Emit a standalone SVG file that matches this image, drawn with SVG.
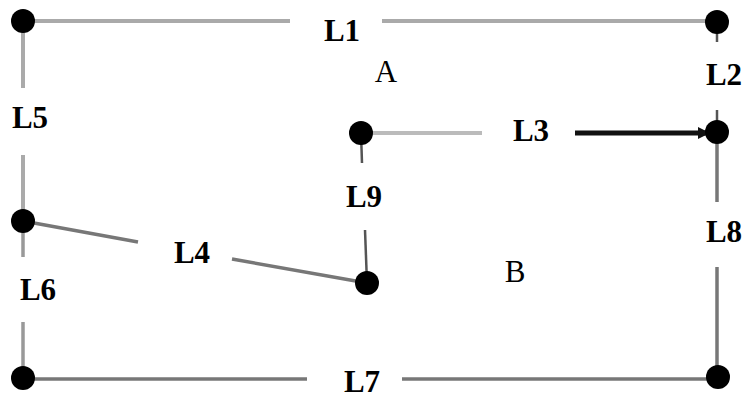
<svg xmlns="http://www.w3.org/2000/svg" width="747" height="405" viewBox="0 0 747 405">
<defs>
<style>
.n{fill:#000}
.lbl{font-family:"Liberation Serif","Times New Roman",serif;font-size:31px;font-weight:bold;fill:#000;text-anchor:middle}
.reg{font-family:"Liberation Serif","Times New Roman",serif;font-size:31px;fill:#000;text-anchor:middle}
.c{fill:none;stroke-linecap:butt}
.light{stroke:#aaa;stroke-width:4}
.mid{stroke:#777;stroke-width:3.5}
.dark{stroke:#555;stroke-width:2.5}
</style>
<marker id="arr" viewBox="0 0 10 10" refX="10" refY="5" markerWidth="3" markerHeight="2.4" orient="auto" markerUnits="strokeWidth">
<path d="M0,0 L10,5 L0,10 z" fill="#111"/>
</marker>
</defs>
<rect width="747" height="405" fill="#fff"/>
<g id="connectors">
<g id="L1"><line class="c light" x1="23" y1="21" x2="290" y2="21"/><line class="c light" x1="382" y1="21" x2="717" y2="21"/></g>
<g id="L2"><line class="c dark" x1="717" y1="22" x2="717" y2="42"/><line class="c dark" x1="717" y1="110" x2="717" y2="132"/></g>
<g id="L3"><line class="c" stroke="#bbb" stroke-width="4" x1="361" y1="133" x2="482" y2="133"/><line class="c" stroke="#111" stroke-width="5" x1="575" y1="133" x2="710" y2="133" marker-end="url(#arr)"/></g>
<g id="L4"><line class="c mid" x1="23" y1="221" x2="138" y2="242"/><line class="c mid" x1="232" y1="259" x2="367" y2="283"/></g>
<g id="L5"><line class="c light" x1="23" y1="21" x2="23" y2="88"/><line class="c light" x1="23" y1="155" x2="23" y2="221"/></g>
<g id="L6"><line class="c" stroke="#999" stroke-width="3.5" x1="23" y1="221" x2="23" y2="257"/><line class="c" stroke="#999" stroke-width="3.5" x1="23" y1="322" x2="23" y2="378"/></g>
<g id="L7"><line class="c mid" x1="23" y1="379" x2="307" y2="379"/><line class="c mid" x1="402" y1="379" x2="718" y2="379"/></g>
<g id="L8"><line class="c mid" x1="717" y1="132" x2="717" y2="202"/><line class="c mid" x1="717" y1="267" x2="717" y2="377"/></g>
<g id="L9"><line class="c dark" x1="361" y1="133" x2="362" y2="163"/><line class="c dark" x1="365" y1="230" x2="367" y2="283"/></g>
</g>
<g id="nodes">
<g id="n1"><circle class="n" cx="23" cy="21" r="12"/></g>
<g id="n2"><circle class="n" cx="717" cy="22" r="12"/></g>
<g id="n3"><circle class="n" cx="361" cy="133" r="12"/></g>
<g id="n4"><circle class="n" cx="717" cy="132" r="12"/></g>
<g id="n5"><circle class="n" cx="23" cy="221" r="12"/></g>
<g id="n6"><circle class="n" cx="367" cy="283" r="12"/></g>
<g id="n7"><circle class="n" cx="23" cy="378" r="12"/></g>
<g id="n8"><circle class="n" cx="718" cy="377" r="12"/></g>
</g>
<g id="labels">
<text class="lbl" x="342" y="41">L1</text>
<text class="reg" x="386" y="82">A</text>
<text class="lbl" x="724" y="85">L2</text>
<text class="lbl" x="30" y="128">L5</text>
<text class="lbl" x="531" y="141">L3</text>
<text class="lbl" x="364" y="207">L9</text>
<text class="lbl" x="724" y="242">L8</text>
<text class="lbl" x="192" y="263">L4</text>
<text class="reg" x="515" y="282">B</text>
<text class="lbl" x="38" y="300">L6</text>
<text class="lbl" x="362" y="392">L7</text>
</g>
</svg>
